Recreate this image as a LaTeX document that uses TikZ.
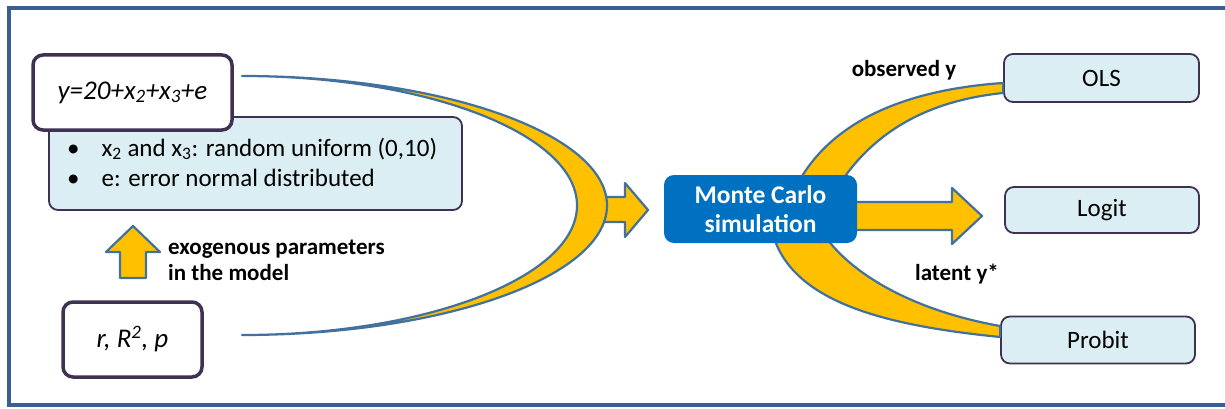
\documentclass[tikz,border=0pt]{standalone}
\usepackage{fontspec}
\setmainfont{Carlito}
\usetikzlibrary{positioning}
\definecolor{framecol}{HTML}{3B5F8E}
\definecolor{arrowcol}{HTML}{41719C}
\definecolor{gold}{HTML}{FFC000}
\definecolor{boxline}{HTML}{3F3151}
\definecolor{paleblue}{HTML}{DBEEF4}
\definecolor{mcblue}{HTML}{0070C0}
\tikzset{%
  whitebox/.style={draw=boxline, fill=white, line width=3.5pt, rounded corners=10pt, inner sep=0pt},
  palebox/.style={draw=boxline, fill=paleblue, line width=1.8pt, rounded corners=9pt, inner sep=0pt,
    font=\fontsize{25}{30}\selectfont},
  mcbox/.style={fill=mcblue, rounded corners=10pt, inner sep=0pt, text=white,
    font=\fontsize{25.5}{29}\selectfont\bfseries, align=center},
  goldshape/.style={fill=gold, draw=arrowcol, line width=2.2pt, line join=round},
  lbl/.style={font=\fontsize{23}{26}\selectfont\bfseries, align=left, inner sep=0pt}
}

\begin{document}
\begin{tikzpicture}[x=1pt,y=-1pt]
\useasboundingbox (0,0) rectangle (1225,409);
\draw[framecol, line width=4pt] (9,8) rectangle (1240,405);

% left side
\node[palebox, minimum width=413pt, minimum height=93pt] (bul) at (255.5,163.5) {};
\node[inner sep=0pt, anchor=west] (bultext) at (67,165)
  {\fontsize{25}{30}\selectfont\begin{tabular}{@{}l@{\hspace{22pt}}l@{}}
   \textbullet & x\textsubscript{2} and x\textsubscript{3}: random uniform (0,10)\\
   \textbullet & e: error normal distributed\end{tabular}};
\node[whitebox, minimum width=199pt, minimum height=75pt] (eq) at (132.5,92.5)
  {\fontsize{27}{30}\selectfont\itshape y=20+x\textsubscript{2}+x\textsubscript{3}+e};
\node[whitebox, minimum width=139pt, minimum height=75pt] (par) at (132.5,339.5)
  {\fontsize{27}{30}\selectfont\itshape r, R\textsuperscript{2}, p};
\filldraw[goldshape] (120,278) -- (120,252) -- (106,252) -- (133,226) -- (160,252)
  -- (146,252) -- (146,278) -- cycle;
\node[lbl, anchor=west] (exo) at (168,260) {exogenous parameters\\in the model};

% big bend into the simulation
\coordinate (ltop) at (242,76);
\coordinate (lbot) at (242,335);
\filldraw[goldshape] (598,197) -- (625,197) -- (625,183) -- (648,210) -- (625,237)
  -- (625,222) -- (598,222) -- cycle;
\filldraw[goldshape] (ltop) .. controls (443.6,76) and (607,134) .. (607,205.5)
  .. controls (607,277) and (443.6,335) .. (lbot)
  .. controls (427,335) and (577,277) .. (577,205.5)
  .. controls (577,134) and (427,76) .. (ltop) -- cycle;

% right side
\node[palebox, minimum width=195pt, minimum height=48pt] (ols) at (1101.5,78) {OLS};
\node[palebox, minimum width=194pt, minimum height=46pt] (logit) at (1102,210) {Logit};
\node[palebox, minimum width=194pt, minimum height=47pt] (probit) at (1098,340) {Probit};

\filldraw[goldshape] (790,200) .. controls (820,125) and (900,90) .. ([yshift=-5pt]ols.west)
  -- ([yshift=-15pt]ols.west) .. controls (935,100) and (870,127) .. (830,200) -- cycle;
\filldraw[goldshape] (770,220) .. controls (780,300) and (880,325) .. ([yshift=3pt]probit.west)
  -- ([yshift=14pt]probit.west) .. controls (910,310) and (840,270) .. (815,220) -- cycle;
\filldraw[goldshape] (850,202) -- (952,202) -- (952,188) -- (982,216) -- (952,244)
  -- (952,230) -- (850,230) -- cycle;
\node[mcbox, minimum width=193pt, minimum height=68pt] (mc) at (760.5,209)
  {Monte Carlo\\simulation};

\node[lbl] (obs) at (904,70) {observed y};
\node[lbl] (lat) at (957,274) {latent y*};
\end{tikzpicture}
\end{document}
